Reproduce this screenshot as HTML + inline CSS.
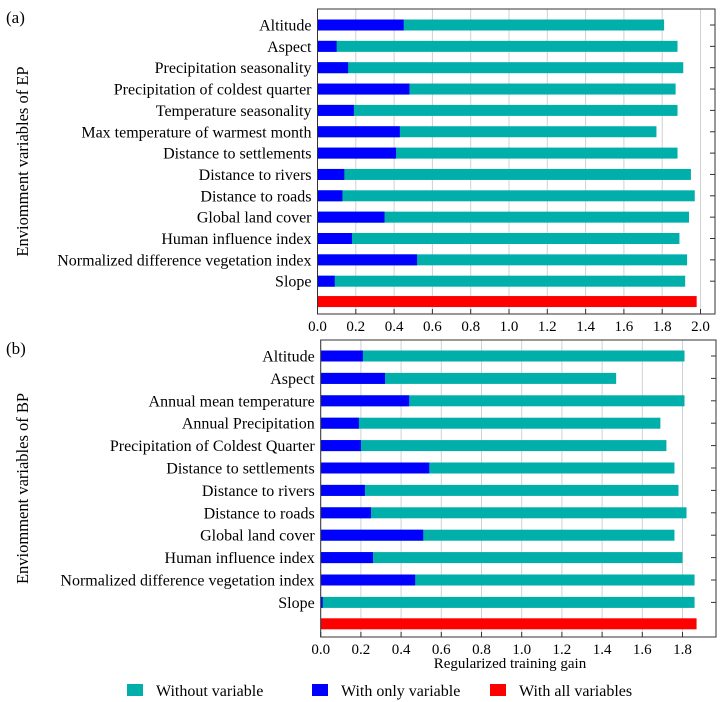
<!DOCTYPE html>
<html><head><meta charset="utf-8"><style>
html,body{margin:0;padding:0;background:#fff;}
svg{display:block;font-family:"Liberation Serif",serif;}
</style></head><body>
<svg id="c" width="724" height="702" xmlns="http://www.w3.org/2000/svg"></svg>
<script>
const labelsA=["Altitude","Aspect","Precipitation seasonality","Precipitation of coldest quarter","Temperature seasonality","Max temperature of warmest month","Distance to settlements","Distance to rivers","Distance to roads","Global land cover","Human influence index","Normalized difference vegetation index","Slope"];
const withoutA=[1.81,1.88,1.91,1.87,1.88,1.77,1.88,1.95,1.97,1.94,1.89,1.93,1.92];
const onlyA=[0.45,0.10,0.16,0.48,0.19,0.43,0.41,0.14,0.13,0.35,0.18,0.52,0.09];
const allA=1.98;
const ticksA=["0.0","0.2","0.4","0.6","0.8","1.0","1.2","1.4","1.6","1.8","2.0"];
const labelsB=["Altitude","Aspect","Annual mean temperature","Annual Precipitation","Precipitation of Coldest Quarter","Distance to settlements","Distance to rivers","Distance to roads","Global land cover","Human influence index","Normalized difference vegetation index","Slope"];
const withoutB=[1.81,1.47,1.81,1.69,1.72,1.76,1.78,1.82,1.76,1.80,1.86,1.86];
const onlyB=[0.21,0.32,0.44,0.19,0.20,0.54,0.22,0.25,0.51,0.26,0.47,0.01];
const allB=1.87;
const ticksB=["0.0","0.2","0.4","0.6","0.8","1.0","1.2","1.4","1.6","1.8"];

const NS="http://www.w3.org/2000/svg";
const svg=document.getElementById('c');
function mk(tag,attrs,parent){const e=document.createElementNS(NS,tag);for(const k in attrs)e.setAttribute(k,attrs[k]);(parent||svg).appendChild(e);return e;}

function panel(p){
  const g=mk('g',{});
  
  
  const x=v=>p.x0+v*p.scale;
  const n=p.labels.length;
  const y=i=>p.firstY+i*p.step;
  p.ticks.forEach(t=>{
    const gx=x(parseFloat(t));
    const l=mk('line',{x1:gx,x2:gx,y1:p.top,y2:p.bottom,stroke:'#d0d0d0','stroke-width':1},g);
    
    
  });
  p.labels.forEach((lab,i)=>{
    const cy=y(i);
    const b1=mk('rect',{x:p.x0,y:cy-5.5,width:x(p.without[i])-p.x0,height:11,fill:'#00AFAA'},g);
    
    
    const b2=mk('rect',{x:p.x0,y:cy-5.5,width:x(p.only[i])-p.x0,height:11,fill:'#0000FF'},g);
    
    
    const t=mk('text',{x:p.x0-6,y:cy+5.5,'text-anchor':'end','font-size':16,fill:'#000'},g);
    t.textContent=lab;
    
    
    const tk=mk('line',{x1:p.right-5,x2:p.right,y1:cy,y2:cy,stroke:'#333'},g);
    
    
  });
  const ry=y(n)-1;
  const r=mk('rect',{x:p.x0,y:ry-5.5,width:x(p.all)-p.x0,height:11,fill:'#FF0000'},g);
  
  
  const f=mk('rect',{x:p.x0,y:p.top,width:p.right-p.x0,height:p.bottom-p.top,fill:'none',stroke:'#333','stroke-width':1},g);
  
  
  p.ticks.forEach(t=>{
    const gx=x(parseFloat(t));
    const tl=mk('line',{x1:gx,x2:gx,y1:p.bottom-5,y2:p.bottom,stroke:'#333'},g);
    
    
    const tt=mk('text',{x:gx,y:p.bottom+17,'text-anchor':'middle','font-size':15},g);
    tt.textContent=t;
    
    
  });
  const yt=mk('text',{x:0,y:0,'text-anchor':'middle','font-size':16.5,transform:`translate(28,${(p.top+p.bottom)/2}) rotate(-90)`},g);
  yt.textContent=p.ytitle;
  
  
  const pl=mk('text',{x:6,y:p.top+14,'font-size':17},g);
  pl.textContent=p.tag;
  
  
}
panel({name:'panel-a',labels:labelsA,without:withoutA,only:onlyA,all:allA,ticks:ticksA,x0:317.5,scale:191.5,right:715,top:9,bottom:314,firstY:25,step:21.35,ytitle:'Enviomment variables of EP',tag:'(a)'});
panel({name:'panel-b',labels:labelsB,without:withoutB,only:onlyB,all:allB,ticks:ticksB,x0:320.7,scale:201,right:716,top:340,bottom:637,firstY:356,step:22.4,ytitle:'Enviomment variables of BP',tag:'(b)'});

const xt=mk('text',{x:510,y:668,'text-anchor':'middle','font-size':15});
xt.textContent='Regularized training gain';



const legend=[["Without variable","#00AFAA",127],["With only variable","#0000FF",312],["With all variables","#FF0000",490]];
legend.forEach(([txt,col,lx])=>{
  const s=mk('rect',{x:lx,y:684,width:16,height:12,fill:col});
  
  
  const t=mk('text',{x:lx+29,y:696,'font-size':16});
  t.textContent=txt;
  
  
});
</script>
</body></html>
